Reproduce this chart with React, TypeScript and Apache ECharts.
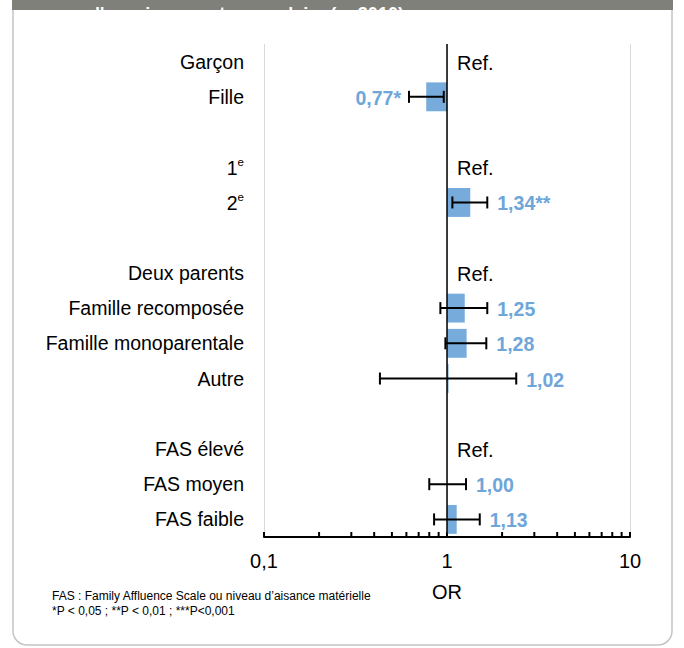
import React, { useEffect, useRef } from "react";
import * as echarts from "echarts";

const categories = [
  "Garçon",
  "Fille",
  "",
  "1e",
  "2e",
  "",
  "Deux parents",
  "Famille recomposée",
  "Famille monoparentale",
  "Autre",
  "",
  "FAS élevé",
  "FAS moyen",
  "FAS faible",
];
const oddsRatios: (number | null)[] = [null, 0.77, null, null, 1.34, null, null, 1.25, 1.28, 1.02, null, null, 1.0, 1.13];
const ciLow: (number | null)[] = [null, 0.62, null, null, 1.07, null, null, 0.92, 0.98, 0.43, null, null, 0.8, 0.85];
const ciHigh: (number | null)[] = [null, 0.96, null, null, 1.66, null, null, 1.66, 1.64, 2.39, null, null, 1.27, 1.51];
const significance = ["", "*", "", "", "**", "", "", "", "", "", "", "", "", ""];
const referenceRows = ["Garçon", "1e", "Deux parents", "FAS élevé"];
const minorTickValues = [0.2, 0.3, 0.4, 0.5, 0.6, 0.7, 0.8, 0.9, 2, 3, 4, 5, 6, 7, 8, 9];
const headerTitle = "l'enseignement secondaire (n=3010)";
const footnotes = [
  "FAS : Family Affluence Scale ou niveau d\u2019aisance matérielle",
  "*P < 0,05 ; **P < 0,01 ; ***P<0,001",
];

const FONT = "'Liberation Sans', Arial, sans-serif";
const BAR_COLOR = "#76abdc";
const LABEL_COLOR = "#6ea6da";

const rows = oddsRatios.map((v, i) => (v == null ? -1 : i)).filter((i) => i >= 0);
const refIdx = referenceRows.map((r) => categories.indexOf(r));

function formatOR(i: number) {
  return (oddsRatios[i] as number).toFixed(2).replace(".", ",") + significance[i];
}

export default function App() {
  const ref = useRef<HTMLDivElement>(null);
  useEffect(() => {
    if (!ref.current) return;
    const chart = echarts.init(ref.current, null, { renderer: "svg" });
    const option: any = {
      animation: false,
      backgroundColor: "#ffffff",
      textStyle: { fontFamily: FONT },
      grid: { left: 264, right: 54, top: 44, bottom: 111 },
      xAxis: {
        type: "log",
        logBase: 10,
        min: 0.1,
        max: 10,
        axisLine: { show: true, onZero: false, lineStyle: { color: "#000", width: 2 } },
        axisTick: { show: true, inside: true, length: 5, lineStyle: { color: "#000", width: 2 } },
        axisLabel: {
          color: "#000",
          fontSize: 20,
          fontFamily: FONT,
          margin: 14,
          formatter: (v: number) => (v < 1 ? v.toFixed(1).replace(".", ",") : String(Math.round(v))),
        },
        splitLine: { show: true, lineStyle: { color: "#d9d9d9", width: 1 } },
        name: "OR",
        nameLocation: "middle",
        nameGap: 45,
        nameTextStyle: { color: "#000", fontSize: 20, fontFamily: FONT },
      },
      yAxis: {
        type: "category",
        inverse: true,
        data: categories,
        axisLine: { show: false },
        axisTick: { show: false },
        splitLine: { show: false },
        axisLabel: {
          margin: 20,
          color: "#000",
          fontSize: 19.5,
          fontFamily: FONT,
          interval: 0,
          formatter: (v: string) => {
            const m = v.match(/^(\d)e$/);
            return m ? `{base|${m[1]}}{sup|e}` : v;
          },
          rich: {
            base: { fontSize: 19.5, color: "#000", fontFamily: FONT, lineHeight: 22, verticalAlign: "bottom" },
            sup: { fontSize: 11.5, color: "#000", fontFamily: FONT, lineHeight: 22, verticalAlign: "top" },
          },
        },
      },
      series: [
        {
          type: "custom",
          name: "bars",
          data: rows.map((i) => [oddsRatios[i], i]),
          encode: { x: 0, y: 1 },
          renderItem: (params: any, api: any) => {
            const i = api.value(1);
            const start = api.coord([1, i]);
            const end = api.coord([api.value(0), i]);
            const h = api.size([1, 1])[1] * 0.82;
            return {
              type: "rect",
              shape: {
                x: Math.min(start[0], end[0]),
                y: start[1] - h / 2,
                width: Math.abs(end[0] - start[0]),
                height: h,
              },
              style: { fill: BAR_COLOR },
            };
          },
          markLine: {
            silent: true,
            symbol: "none",
            label: { show: false },
            lineStyle: { color: "#000", width: 1.5, type: "solid" },
            data: [{ xAxis: 1 }],
            z: 5,
          },
          z: 3,
        },
        {
          type: "custom",
          name: "ci",
          data: rows.map((i) => [ciLow[i], ciHigh[i], i]),
          encode: { x: [0, 1], y: 2 },
          renderItem: (params: any, api: any) => {
            const i = rows[params.dataIndex];
            const lo = api.coord([ciLow[i], i]);
            const hi = api.coord([ciHigh[i], i]);
            const y = lo[1];
            const cap = 6;
            const toLeft = (oddsRatios[i] as number) < 1;
            const ls = { stroke: "#000", lineWidth: 2 };
            return {
              type: "group",
              children: [
                { type: "line", shape: { x1: lo[0], y1: y, x2: hi[0], y2: y }, style: ls },
                { type: "line", shape: { x1: lo[0], y1: y - cap, x2: lo[0], y2: y + cap }, style: ls },
                { type: "line", shape: { x1: hi[0], y1: y - cap, x2: hi[0], y2: y + cap }, style: ls },
                {
                  type: "text",
                  x: toLeft ? lo[0] - 8 : hi[0] + 10,
                  y: y + 1,
                  style: {
                    text: formatOR(i),
                    fill: LABEL_COLOR,
                    fontSize: 19.5,
                    fontWeight: "bold",
                    fontFamily: FONT,
                    align: toLeft ? "right" : "left",
                    verticalAlign: "middle",
                  },
                },
              ],
            };
          },
          z: 6,
        },
        {
          type: "custom",
          name: "ref",
          data: refIdx.map((i) => [1, i]),
          encode: { x: 0, y: 1 },
          renderItem: (params: any, api: any) => {
            const p = api.coord([api.value(0), api.value(1)]);
            return {
              type: "text",
              x: p[0] + 10,
              y: p[1] + 1,
              style: {
                text: "Ref.",
                fill: "#000",
                fontSize: 20,
                fontFamily: FONT,
                align: "left",
                verticalAlign: "middle",
              },
            };
          },
          z: 6,
        },
        {
          type: "custom",
          name: "minorTicks",
          data: minorTickValues.map((v) => [v, 0]),
          encode: { x: 0, y: 1 },
          renderItem: (params: any, api: any) => {
            const p = api.coord([api.value(0), 0]);
            const bottom = params.coordSys.y + params.coordSys.height;
            return {
              type: "line",
              shape: { x1: p[0], y1: bottom, x2: p[0], y2: bottom - 5 },
              style: { stroke: "#000", lineWidth: 2 },
            };
          },
          z: 6,
        },
      ],
      graphic: [
        {
          type: "rect",
          z: 0,
          shape: { x: 13, y: 4, width: 659, height: 641, r: [0, 0, 14, 14] },
          style: { fill: "none", stroke: "#c4c4c4", lineWidth: 1.5 },
        },
        {
          type: "rect",
          z: 1,
          shape: { x: 12, y: 0, width: 661, height: 10 },
          style: { fill: "#80807a" },
        },
        {
          type: "text",
          z: 2,
          x: 95,
          y: 5,
          style: {
            text: headerTitle,
            fill: "#ffffff",
            fontSize: 18,
            fontWeight: "bold",
            fontFamily: FONT,
            align: "left",
            verticalAlign: "alphabetic",
          },
        },
        {
          type: "text",
          z: 2,
          x: 52,
          y: 596,
          style: { text: footnotes[0], fill: "#000", fontSize: 12, fontFamily: FONT, align: "left", verticalAlign: "middle" },
        },
        {
          type: "text",
          z: 2,
          x: 52,
          y: 611,
          style: { text: footnotes[1], fill: "#000", fontSize: 12, fontFamily: FONT, align: "left", verticalAlign: "middle" },
        },
      ],
    };
    chart.setOption(option);
    return () => chart.dispose();
  }, []);
  return (
    <div
      ref={ref}
      style={{ position: "absolute", left: 0, top: 0, width: 684, height: 648, background: "#fff" }}
    />
  );
}
